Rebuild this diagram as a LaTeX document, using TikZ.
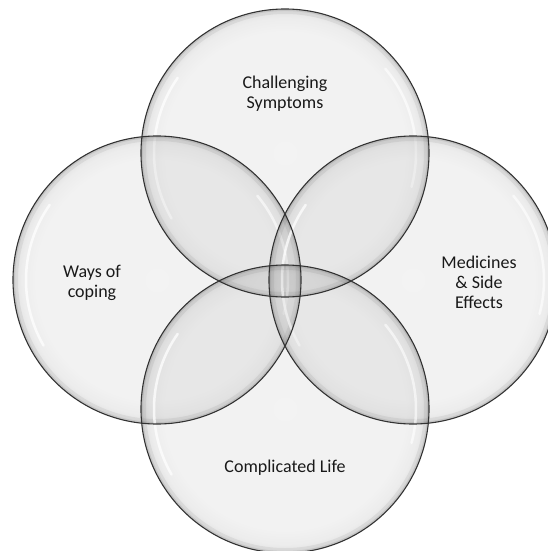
\documentclass[tikz,border=0pt]{standalone}
\usepackage{fontspec}
\setmainfont{Carlito}
\usetikzlibrary{calc}
\pgfdeclareradialshading{bubble}{\pgfpoint{0bp}{0bp}}{color(0bp)=(black!40); color(21bp)=(black!42); color(23.5bp)=(black!60); color(25bp)=(black!95); color(50bp)=(black!95)}
\begin{document}
\begin{tikzpicture}[x=1pt,y=-1pt,
  lbl/.style={align=center,font=\fontsize{18}{20}\selectfont,text=black!90},
  rimline/.style={draw=black!80,line width=1.1pt}]
\useasboundingbox (0,0) rectangle (548,551);
\def\R{144}
\coordinate (T) at (285,153);
\coordinate (L) at (157,280);
\coordinate (Rt) at (413,280);
\coordinate (B) at (285,409);
\begin{scope}
\clip (0,0) rectangle (548,551);
\foreach \c in {T,L,Rt,B}{
  \shade[shading=bubble, fill opacity=0.12] (\c) circle[radius=\R];
  \draw[black, line width=5pt, draw opacity=0.06] (\c) circle[radius=\R-2.5];
  \draw[black, line width=2pt, draw opacity=0.08] (\c) circle[radius=\R-1];
  \draw[white, line width=2.5pt, draw opacity=0.75, line cap=round] ($(\c)+(150:\R-13)$) arc[start angle=150,end angle=215,radius=\R-13];
  \draw[white, line width=2.5pt, draw opacity=0.6, line cap=round] ($(\c)+(-40:\R-13)$) arc[start angle=-40,end angle=15,radius=\R-13];
}
\foreach \c in {T,L,Rt,B}{
  \draw[rimline] (\c) circle[radius=\R];
}
\end{scope}
\node[lbl] (ts) at (285,94) {Challenging\\Symptoms};
\node[lbl] (tl) at (92,283) {Ways of\\coping};
\node[lbl] (tr) at (479,282) {Medicines\\\& Side\\Effects};
\node[lbl] (tb) at (285,468) {Complicated Life};
\end{tikzpicture}
\end{document}
